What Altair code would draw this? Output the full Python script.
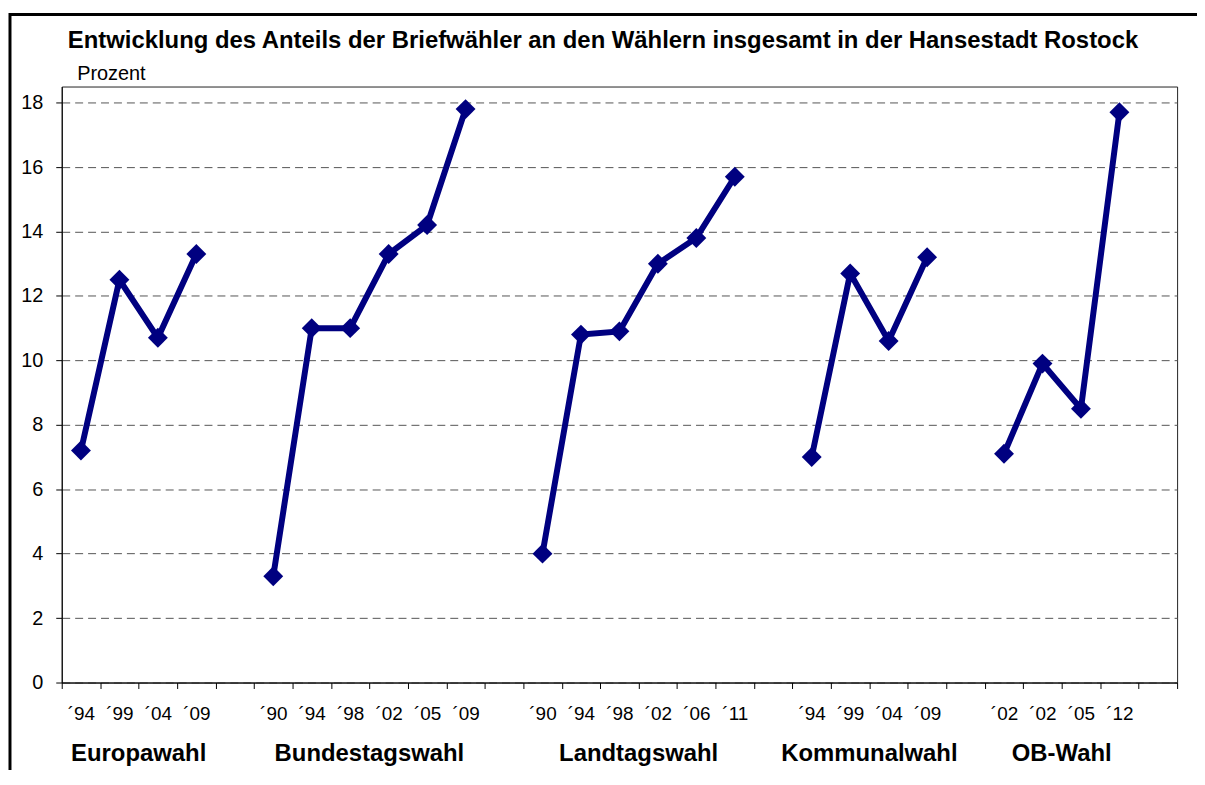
import json
import altair as alt
import pandas as pd

# ---------------- data ----------------
title_text = "Entwicklung des Anteils der Briefwähler an den Wählern insgesamt in der Hansestadt Rostock"
y_title = "Prozent"
groups = ["Europawahl", "Bundestagswahl", "Landtagswahl", "Kommunalwahl", "OB-Wahl"]
years = [
    ["´94", "´99", "´04", "´09"],
    ["´90", "´94", "´98", "´02", "´05", "´09"],
    ["´90", "´94", "´98", "´02", "´06", "´11"],
    ["´94", "´99", "´04", "´09"],
    ["´02", "´02", "´05", "´12"],
]
values = [
    [7.2, 12.5, 10.7, 13.3],
    [3.3, 11.0, 11.0, 13.3, 14.2, 17.8],
    [4.0, 10.8, 10.9, 13.0, 13.8, 15.7],
    [7.0, 12.7, 10.6, 13.2],
    [7.1, 9.9, 8.5, 17.7],
]
y_ticks = [0, 2, 4, 6, 8, 10, 12, 14, 16, 18]

# ---------------- build tables ----------------
rows, slot_labels, centers = [], [], []
slot = 0
for g, ys, vs in zip(groups, years, values):
    start = slot
    for yr, v in zip(ys, vs):
        rows.append({"gruppe": g, "jahr": yr, "slot": slot, "pos": slot + 0.5, "wert": v})
        slot_labels.append(yr)
        slot += 1
    centers.append({"gruppe": g, "pos": (start + slot) / 2})
    slot_labels.append("")  # empty category between groups
    slot += 1
n_slots = slot

df = pd.DataFrame(rows)
df_groups = pd.DataFrame(centers)

W, H = 1121, 599
FONT = "Liberation Sans"
NAVY = "#000080"

tick_vals = list(range(n_slots + 1)) + [i + 0.5 for i, l in enumerate(slot_labels) if l]
label_arr = json.dumps(slot_labels, ensure_ascii=False)

x_scale = alt.Scale(domain=[0, n_slots], nice=False, zero=False)
x_axis = alt.Axis(
    values=tick_vals,
    title=None,
    grid=False,
    labelExpr=f"datum.value % 1 != 0 ? {label_arr}[floor(datum.value)] : ''",
    labelOverlap=False,
    labelFlush=False,
    labelBound=False,
    labelFontSize=19,
    labelColor="black",
    labelPadding=16,
    tickSize=6,
    tickColor="black",
    tickOpacity={"condition": {"test": "datum.value % 1 != 0", "value": 0}, "value": 1},
    domainColor="black",
)
x_enc = alt.X("pos:Q", scale=x_scale, axis=x_axis)
y_enc = alt.Y(
    "wert:Q",
    scale=alt.Scale(domain=[0, 18.5], nice=False, zero=True),
    axis=alt.Axis(
        values=y_ticks,
        title=y_title,
        titleAngle=0,
        titleAlign="left",
        titleBaseline="alphabetic",
        titleX=15,
        titleY=-6.7,
        titleFontSize=20,
        titleFontWeight="normal",
        titleColor="black",
        labelFontSize=20,
        labelColor="black",
        labelPadding=13,
        tickSize=6,
        tickColor="black",
        domainColor="black",
        grid=True,
        gridDash=[8, 5],
        gridColor="#555555",
        gridWidth=1,
    ),
)

base = alt.Chart(df)

lines = base.mark_line(color=NAVY, strokeWidth=6).encode(
    x=x_enc, y=y_enc, detail="gruppe:N", order="slot:Q"
)
points = base.mark_point(shape="diamond", filled=True, size=400, color=NAVY, opacity=1).encode(
    x=x_enc, y=y_enc
)

group_labels = alt.Chart(df_groups).mark_text(
    font=FONT, fontSize=24, fontWeight="bold", color="black", baseline="alphabetic", align="center"
).encode(
    x=x_enc,
    y=alt.value(H + 79),
    text="gruppe:N",
)

title = alt.Chart(alt.Data(values=[{"t": title_text}])).mark_text(
    font=FONT, fontSize=24, fontWeight="bold", color="black", baseline="alphabetic", align="center"
).encode(x=alt.value(W / 2 - 16.5), y=alt.value(-38.3), text="t:N")

frame = alt.Chart(alt.Data(values=[{"a": 1}])).mark_rect(
    fillOpacity=0, stroke="black", strokeWidth=3
).encode(x=alt.value(-52), x2=alt.value(W + 200), y=alt.value(-72.5), y2=alt.value(H + 300))

chart = (
    alt.layer(frame, lines, points, group_labels, title)
    .properties(
        width=W,
        height=H,
        autosize=alt.AutoSizeParams(type="none"),
        padding={"left": 54, "top": 77, "right": 20, "bottom": 86},
    )
    .configure(font=FONT)
    .configure_view(stroke="#222222", strokeWidth=1)
)

chart.save("out.html", embed_options={"renderer": "svg", "actions": False})
